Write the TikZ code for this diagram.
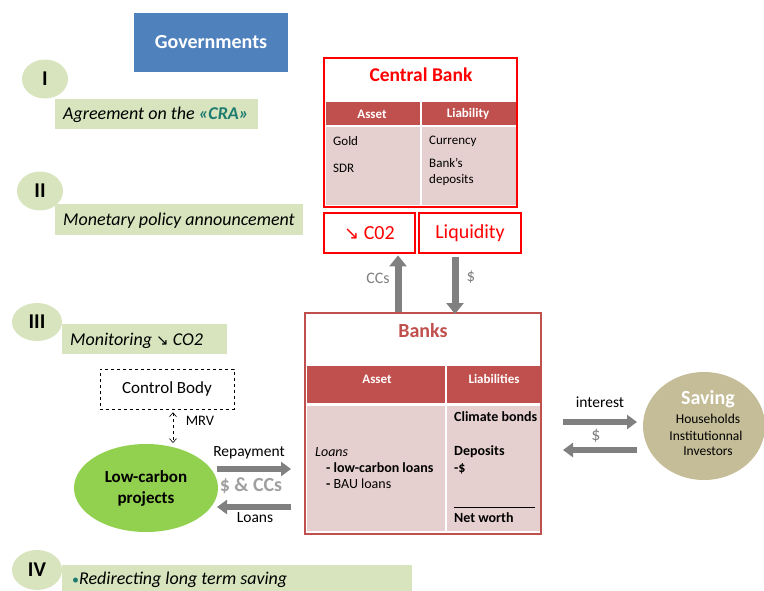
\documentclass[tikz,border=0pt]{standalone}
\usepackage{fontspec}
\setmainfont{Carlito}
\newfontfamily\symf{DejaVu Sans}
\usetikzlibrary{arrows.meta,shapes.geometric}
\definecolor{govblue}{HTML}{4F81BD}
\definecolor{lgreen}{HTML}{D7E4BD}
\definecolor{hdr}{HTML}{C0504D}
\definecolor{pinkb}{HTML}{E6CFCF}
\definecolor{agray}{HTML}{808080}
\definecolor{tgray}{HTML}{A0A0A0}
\definecolor{lcgreen}{HTML}{92D050}
\definecolor{tan}{HTML}{C4BD97}
\definecolor{teal}{HTML}{1E7B70}
\definecolor{cbred}{HTML}{FF0000}
\newcommand\fsz[2]{\fontsize{#1}{#2}\selectfont}
\begin{document}
\begin{tikzpicture}[x=1pt,y=-1pt,
  txt/.style={inner sep=0pt, text=black},
  numcirc/.style={ellipse, fill=lgreen, inner sep=0pt, minimum width=46pt, minimum height=39pt, font=\fsz{21}{24}\bfseries},
  stepbar/.style={fill=lgreen, inner sep=0pt, anchor=north west},
  steptext/.style={inner sep=0pt, text=black, anchor=mid west, yshift=-3pt, font=\fsz{18}{21}\itshape},
  bigarrow/.style={draw=agray, line width=7pt, -{Triangle[length=11pt,width=17pt]}},
  harrow/.style={draw=agray, line width=6.5pt, -{Triangle[length=10pt,width=14pt]}},
  redbox/.style={draw=cbred, line width=2.8pt, inner sep=0pt},
  hdrtext/.style={inner sep=0pt, text=white, font=\fsz{13}{15}\bfseries},
  small/.style={inner sep=0pt, anchor=mid west, yshift=-2.5pt, font=\fsz{13}{15}},
  smallb/.style={inner sep=0pt, anchor=mid west, yshift=-2.5pt, font=\fsz{14}{16}\bfseries},
]
\useasboundingbox (0,0) rectangle (764,590);
\fill[white] (0,0) rectangle (764,590);

% Governments
\node[fill=govblue, minimum width=154pt, minimum height=59pt, inner sep=0pt, text=white, font=\fsz{20}{24}\bfseries] (gov) at (211,42.5) {Governments};

% Step I
\node[numcirc] (c1) at (45,79) {I};
\node[stepbar, minimum width=203pt, minimum height=30pt] (s1) at (55,99) {};
\node[steptext] (s1t) at (63,114) {Agreement on the {\color{teal}\bfseries«CRA»}};

% Step II
\node[numcirc] (c2) at (40,191) {II};
\node[stepbar, minimum width=248pt, minimum height=31pt] (s2) at (55,204) {};
\node[steptext] (s2t) at (63,220) {Monetary policy announcement};

% Step III
\node[numcirc, minimum width=50pt, minimum height=38pt] (c3) at (37,322) {III};
\node[stepbar, minimum width=165pt, minimum height=30pt] (s3) at (62,324) {};
\node[steptext] (s3t) at (70,340) {Monitoring {\symf\fsz{15}{17}\char"2198} CO2};

% Step IV
\node[numcirc, minimum width=50pt, minimum height=40pt] (c4) at (37,570) {IV};
\node[stepbar, minimum width=350pt, minimum height=32pt] (s4) at (62,565) {};
\node[steptext] (s4t) at (72,579) {{\color{teal}\upshape\fsz{14}{16}•}Redirecting long term saving};

% Central bank
\fill[hdr] (326,102) rectangle (516,125);
\fill[pinkb] (326,127) rectangle (516,205);
\draw[white, line width=1.5pt] (421,102) -- (421,205);
\node[redbox, minimum width=193pt, minimum height=149pt] (cb) at (420.5,132.5) {};
\node[txt, text=cbred, font=\fsz{19.5}{23}\bfseries] (cbt) at (421,75) {Central Bank};
\node[hdrtext] (cba) at (372,114) {Asset};
\node[hdrtext] (cbl) at (468,114) {Liability};
\node[small] (gold) at (333,141) {Gold};
\node[small] (sdr) at (333,168) {SDR};
\node[small] (cur) at (429,140) {Currency};
\node[small, align=left, anchor=north west, yshift=0pt, font=\fsz{13}{16}] (bd) at (429,156) {Bank’s\\deposits};

% CO2 and liquidity
\node[redbox, minimum width=91pt, minimum height=40pt, text=cbred, font=\fsz{20}{24}] (co2) at (369.5,233) {{\symf\fsz{18}{20}\char"2198} C02};
\node[redbox, minimum width=102pt, minimum height=40pt, text=cbred, font=\fsz{20}{24}] (liq) at (470,233) {Liquidity};

% Banks
\fill[hdr] (307,366) rectangle (540,403);
\fill[pinkb] (307,406) rectangle (540,531);
\draw[white, line width=1.5pt] (446,366) -- (446,531);
\node[draw=hdr, line width=2pt, minimum width=236pt, minimum height=221pt, inner sep=0pt] (banks) at (423,423.5) {};
\node[txt, text=hdr, font=\fsz{20}{24}\bfseries] (bt) at (423,331) {Banks};
\node[hdrtext] (ba) at (377,379) {Asset};
\node[hdrtext] (bl) at (494,379) {Liabilities};
\node[small, font=\fsz{14}{16}\itshape] (loans) at (315,452) {Loans};
\node[smallb] (lcl) at (326,468) {- low-carbon loans};
\node[small, font=\fsz{14}{16}] (bau) at (326,484) {{\bfseries -} BAU loans};
\node[smallb] (clb) at (454,417) {Climate bonds};
\node[smallb] (dep) at (454,451) {Deposits};
\node[smallb] (dol) at (454,468) {-\$};
\draw[black, line width=1pt] (454,507) -- (535,507);
\node[smallb] (nw) at (454,518) {Net worth};

% arrows CB <-> banks
\coordinate (ccsx) at (398,0);
\coordinate (dolx) at (455,0);
\draw[bigarrow] (banks.north -| ccsx) -- ([yshift=-1pt]co2.south -| ccsx);
\draw[bigarrow] ([yshift=-3pt]liq.south -| dolx) -- ([yshift=-2pt]banks.north -| dolx);
\node[txt, text=agray, font=\fsz{16}{19}] (ccst) at (378,278) {CCs};
\node[txt, text=agray, font=\fsz{17}{20}] (dolt) at (471,277) {\$};

% Control body and projects
\node[draw=black, dashed, line width=0.6pt, minimum width=134pt, minimum height=40pt, inner sep=0pt, font=\fsz{17}{20}] (ctrl) at (167,389) {Control Body};
\node[ellipse, fill=lcgreen, minimum width=144pt, minimum height=88pt, inner sep=0pt, align=center, font=\fsz{17}{21}\bfseries] (lcp) at (146,488) {Low-carbon\\projects};
\coordinate (mrvx) at (173,0);
\coordinate (mrvend) at (173,443);
\draw[dashed, line width=0.6pt, {Straight Barb[length=4pt,width=7pt]}-{Straight Barb[length=4pt,width=7pt]}] ([yshift=-3pt]ctrl.south -| mrvx) -- (mrvend);
\node[txt, font=\fsz{14.5}{17}] (mrv) at (200,421) {MRV};

\coordinate (rep1) at (217,469);
\coordinate (rep2) at (291,469);
\coordinate (loa1) at (291,507);
\coordinate (loa2) at (217,507);
\draw[harrow] (rep1) -- (rep2);
\draw[harrow] (loa1) -- (loa2);
\node[txt, font=\fsz{15.5}{18}] (rept) at (249,453) {Repayment};
\node[txt, text=tgray, font=\fsz{20}{24}\bfseries] (dcc) at (251,486) {\$ \& CCs};
\node[txt, font=\fsz{15.5}{18}] (loat) at (255,518) {Loans};

% Saving
\node[ellipse, fill=tan, minimum width=122pt, minimum height=108pt, inner sep=0pt] (sav) at (704,426) {};
\node[txt, text=white, font=\fsz{20}{24}\bfseries] (savt) at (708,399) {Saving};
\node[txt, font=\fsz{13.5}{16}] (hh) at (708,419) {Households};
\node[txt, font=\fsz{13.5}{16}] (ii) at (706,436) {Institutionnal};
\node[txt, font=\fsz{13.5}{16}] (inv) at (708,451) {Investors};

\coordinate (int1) at (563,422);
\coordinate (int2) at (637,422);
\coordinate (ds1) at (637,450);
\coordinate (ds2) at (563,450);
\draw[harrow] (int1) -- (int2);
\draw[harrow] (ds1) -- (ds2);
\node[txt, font=\fsz{15.5}{18}] (intt) at (600,402) {interest};
\node[txt, text=agray, font=\fsz{18}{21}] (dst) at (596,436) {\$};
\end{tikzpicture}
\end{document}
